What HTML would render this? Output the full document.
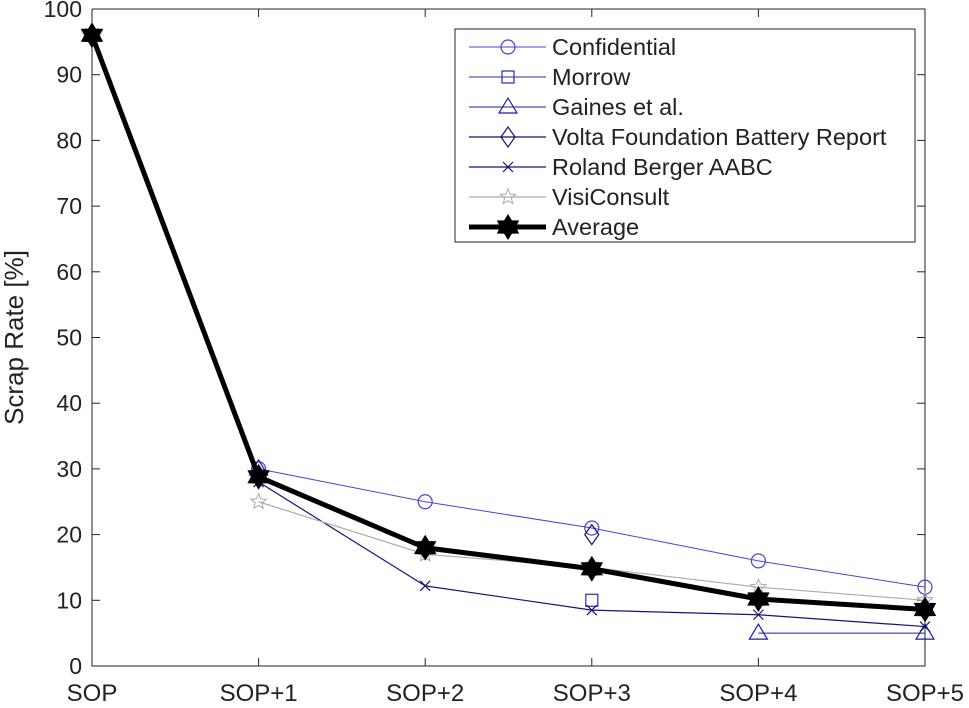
<!DOCTYPE html>
<html><head><meta charset="utf-8"><style>
body{margin:0;background:#fff}
svg text{font-family:"Liberation Sans",sans-serif}
</style></head><body>
<svg id="chart" width="969" height="703" xmlns="http://www.w3.org/2000/svg">
<rect width="969" height="703" fill="#fff"/>
<g id="grid"></g>
<g id="series"></g>
<g id="legend"></g>
</svg>
<script>
const categories=["SOP","SOP+1","SOP+2","SOP+3","SOP+4","SOP+5"];
const yTicks=[0,10,20,30,40,50,60,70,80,90,100];
const confidential=[null,30,25,21,16,12];
const morrow=[null,null,null,10,null,null];
const gaines=[null,30,null,null,5,5];
const volta=[null,null,null,20,null,null];
const roland=[null,28,12.2,8.5,7.8,6];
const visi=[null,25,17,15,12,10];
const average=[96,28.8,18,14.8,10.2,8.6];
const seriesNames=["Confidential","Morrow","Gaines et al.","Volta Foundation Battery Report","Roland Berger AABC","VisiConsult","Average"];

const NS="http://www.w3.org/2000/svg";
const X0=92,X1=925,Y0=666,Y1=9;
const xs=i=>X0+i*(X1-X0)/(categories.length-1);
const ys=v=>Y0-v*(Y0-Y1)/100;
function mk(tag,attrs,parent){const e=document.createElementNS(NS,tag);for(const k in attrs)e.setAttribute(k,attrs[k]);parent.appendChild(e);return e;}
const grid=document.getElementById('grid'),ser=document.getElementById('series'),leg=document.getElementById('legend');

let ax=mk('path',{d:`M${X0},${Y1}V${Y0}H${X1}V${Y1}H${X0}`,fill:'none',stroke:'#222','stroke-width':1},grid);


yTicks.forEach(t=>{
  const y=ys(t);
  mk('line',{x1:X0,x2:X0+8,y1:y,y2:y,stroke:'#222'},grid);
  mk('line',{x1:X1,x2:X1-8,y1:y,y2:y,stroke:'#222'},grid);
  const tx=mk('text',{x:X0-10,y:y+8,'text-anchor':'end','font-size':23,fill:'#222'},grid);
  tx.textContent=t;
  
  
});
categories.forEach((c,i)=>{
  const x=xs(i);
  mk('line',{x1:x,x2:x,y1:Y0,y2:Y0-8,stroke:'#222'},grid);
  mk('line',{x1:x,x2:x,y1:Y1,y2:Y1+8,stroke:'#222'},grid);
  const tx=mk('text',{x:x,y:701,'text-anchor':'middle','font-size':24,fill:'#222'},grid);
  tx.textContent=c;
  
  
});
const yt=mk('text',{x:0,y:0,transform:`translate(23,${(Y0+Y1)/2}) rotate(-90)`,'text-anchor':'middle','font-size':26,fill:'#222'},grid);
yt.textContent="Scrap Rate [%]";



function star(cx,cy,r,n,inner){let p=[];for(let k=0;k<2*n;k++){const rr=k%2?r*inner:r;const a=-Math.PI/2+k*Math.PI/n;p.push((cx+rr*Math.cos(a)).toFixed(1)+','+(cy+rr*Math.sin(a)).toFixed(1));}return p.join(' ');}
function marker(type,x,y,color,g){
  if(type==='o')return mk('circle',{cx:x,cy:y,r:7,fill:'none',stroke:color,'stroke-width':1.2},g);
  if(type==='s')return mk('rect',{x:x-6,y:y-6,width:12,height:12,fill:'none',stroke:color,'stroke-width':1.2},g);
  if(type==='^')return mk('polygon',{points:`${x},${y-9} ${x-9},${y+6} ${x+9},${y+6}`,fill:'none',stroke:color,'stroke-width':1.2},g);
  if(type==='d')return mk('polygon',{points:`${x},${y-10} ${x+7},${y} ${x},${y+10} ${x-7},${y}`,fill:'none',stroke:color,'stroke-width':1.2},g);
  if(type==='x')return mk('path',{d:`M${x-5},${y-5}L${x+5},${y+5}M${x-5},${y+5}L${x+5},${y-5}`,stroke:color,'stroke-width':1.2},g);
  if(type==='p')return mk('polygon',{points:star(x,y,8,5,0.45),fill:'none',stroke:color,'stroke-width':1},g);
  if(type==='h')return mk('polygon',{points:star(x,y,12,6,0.6),fill:'#000',stroke:'#000','stroke-width':1},g);
}
const defs=[
 {d:confidential,c:'#4545d6',w:1,m:'o'},
 {d:morrow,c:'#2a2ab4',w:1,m:'s'},
 {d:gaines,c:'#1c1ca8',w:1,m:'^'},
 {d:volta,c:'#121270',w:1.2,m:'d'},
 {d:roland,c:'#141478',w:1.2,m:'x'},
 {d:visi,c:'#aaaaaa',w:1.2,m:'p'},
 {d:average,c:'#000',w:5,m:'h'}
];
const keys=['confidential','morrow','gaines','volta','roland-berger','visiconsult','average'];
defs.forEach((s,si)=>{
  const g=mk('g',{},ser);
  
  
  let segs=[],cur=[];
  s.d.forEach((v,i)=>{if(v==null){if(cur.length)segs.push(cur);cur=[];}else cur.push([xs(i),ys(v)]);});
  if(cur.length)segs.push(cur);
  segs.forEach(sg=>{if(sg.length>1)mk('polyline',{points:sg.map(p=>p.join(',')).join(' '),fill:'none',stroke:s.c,'stroke-width':s.w,'stroke-linejoin':'round'},g);});
  s.d.forEach((v,i)=>{if(v!=null){const m=marker(s.m,xs(i),ys(v),s.c,g);}});
});
// legend
const lb=mk('rect',{x:455,y:29,width:460,height:213,fill:'#fff',stroke:'#222','stroke-width':1},leg);


defs.forEach((s,si)=>{
  const y=47+si*30;
  const g=mk('g',{},leg);
  
  
  mk('line',{x1:469,x2:546,y1:y,y2:y,stroke:s.c,'stroke-width':s.w},g);
  marker(s.m,508,y,s.c,g);
  const t=mk('text',{x:552,y:y+8,'font-size':23.5,fill:'#222'},g);
  t.textContent=seriesNames[si];
});
</script>
</body></html>
